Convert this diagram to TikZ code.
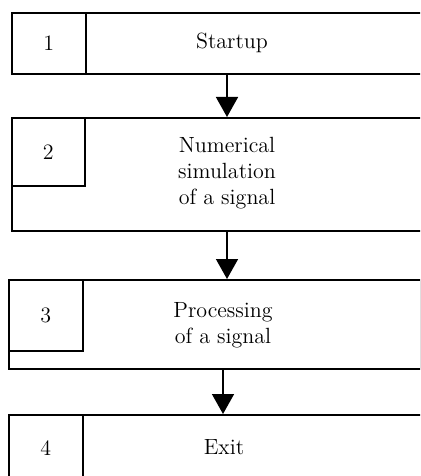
\documentclass[tikz,border=0pt]{standalone}
\usepackage{tikz}
\usetikzlibrary{arrows.meta, positioning}

\begin{document}
\begin{tikzpicture}[
    x=0.5pt, y=-0.5pt,
    box/.style={draw, rectangle, line width=0.8pt, inner sep=0pt, anchor=north west},
    num/.style={box, font=\fontsize{11}{13}\selectfont},
    label/.style={align=center, font=\fontsize{11}{13}\selectfont},
    flow/.style={line width=0.8pt, -{Triangle[width=11pt, length=10pt]}}
]
    \useasboundingbox (0,0) rectangle (420,476);
    \clip (0,0) rectangle (420,476);

    % Step 1: Startup
    \node[box, minimum width=209.5pt, minimum height=30.5pt] (s1) at (11,12) {};
    \node[num, minimum width=37pt, minimum height=30.5pt] (n1) at (11,12) {1};
    \node[label] (t1) at (232,43) {Startup};

    % Step 2: simulation
    \node[box, minimum width=209.5pt, minimum height=56.5pt] (s2) at (11,117) {};
    \node[num, minimum width=36.5pt, minimum height=34pt] (n2) at (11,117) {2};
    \node[label] (t2) at (227,173) {Numerical\\simulation\\of a signal};

    % Step 3: processing
    \node[box, minimum width=205.75pt, minimum height=44.5pt] (s3) at (8,279) {};
    \node[num, minimum width=37pt, minimum height=35.5pt] (n3) at (8,279) {3};
    \node[label] (t3) at (223,325) {Processing\\of a signal};

    % Step 4: Exit
    \node[box, minimum width=211pt, minimum height=33pt] (s4) at (8,414) {};
    \node[num, minimum width=37pt, minimum height=33pt] (n4) at (8,414) {4};
    \node[label] (t4) at (224,447) {Exit};

    % Arrows between the steps
    \draw[flow] (s1.south -| t2) -- (s2.north -| t2);
    \draw[flow] (s2.south -| t2) -- (s3.north -| t2);
    \draw[flow] (s3.south -| t3) -- (s4.north -| t3);
\end{tikzpicture}
\end{document}
